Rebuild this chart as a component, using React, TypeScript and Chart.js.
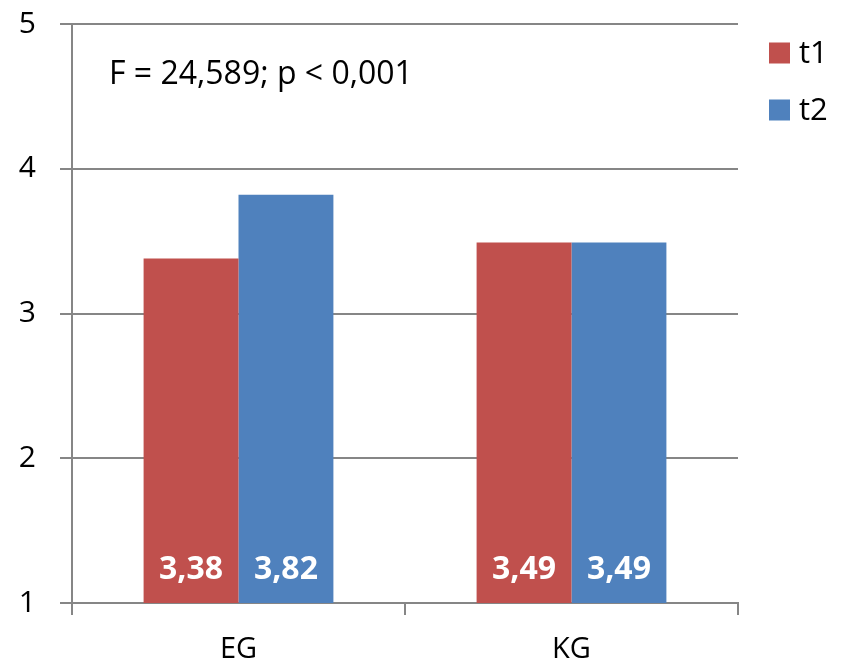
import React, { useEffect, useRef } from "react";
import { Chart, registerables } from "chart.js";

Chart.register(...registerables);

const groups = ["EG", "KG"];
const seriesNames = ["t1", "t2"];
const t1Values = [3.38, 3.49];
const t2Values = [3.82, 3.49];
const seriesColors = ["#C0504D", "#4F81BD"];
const yTicks = [1, 2, 3, 4, 5];
const statText = "F = 24,589; p < 0,001";

const FONT = "'Open Sans', sans-serif";
const fmt = (v: number) => v.toFixed(2).replace(".", ",");

const overlayPlugin = {
  id: "overlay",
  afterDatasetsDraw(chart: any) {
    const { ctx, chartArea, scales } = chart;
    const y = scales.y;
    ctx.save();
    // value labels near the base of each bar
    ctx.font = `bold 32px ${FONT}`;
    ctx.fillStyle = "#ffffff";
    ctx.textAlign = "center";
    ctx.textBaseline = "middle";
    chart.data.datasets.forEach((ds: any, di: number) => {
      const meta = chart.getDatasetMeta(di);
      meta.data.forEach((bar: any, i: number) => {
        ctx.fillText(fmt(ds.data[i]), bar.x, y.getPixelForValue(yTicks[0]) - 33);
      });
    });
    // statistics annotation
    ctx.font = `32px ${FONT}`;
    ctx.fillStyle = "#000000";
    ctx.textAlign = "left";
    ctx.fillText(statText, chartArea.left + 37, chartArea.top + 51);
    // legend
    ctx.font = `31px ${FONT}`;
    chart.data.datasets.forEach((ds: any, di: number) => {
      const cy = chartArea.top + 29 + di * 57;
      ctx.fillStyle = ds.backgroundColor;
      ctx.fillRect(chartArea.right + 31, cy - 10.5, 21, 21);
      ctx.fillStyle = "#000000";
      ctx.fillText(ds.label, chartArea.right + 61, cy + 1);
    });
    ctx.restore();
  },
};

export default function App() {
  const ref = useRef<HTMLCanvasElement | null>(null);

  useEffect(() => {
    document.body.style.margin = "0";
    const canvas = ref.current;
    if (!canvas) return;
    const chart = new Chart(canvas, {
      type: "bar",
      data: {
        labels: groups,
        datasets: [
          { label: seriesNames[0], data: t1Values, backgroundColor: seriesColors[0] },
          { label: seriesNames[1], data: t2Values, backgroundColor: seriesColors[1] },
        ],
      },
      options: {
        responsive: false,
        animation: false,
        devicePixelRatio: 1,
        layout: { padding: { top: 24, right: 106, left: 0, bottom: 0 } },
        datasets: { bar: { categoryPercentage: 0.57, barPercentage: 1, borderWidth: 0 } },
        plugins: { legend: { display: false }, tooltip: { enabled: false } },
        scales: {
          x: {
            afterFit: (s: any) => { s.height = 64; s.paddingLeft = 0; s.paddingRight = 0; },
            grid: { drawOnChartArea: false, drawTicks: true, tickLength: 12, color: "#868686", lineWidth: 2, offset: true },
            border: { color: "#868686", width: 2 },
            ticks: { font: { family: FONT, size: 29 }, color: "#000000", padding: 17 },
          },
          y: {
            min: 1,
            max: 5,
            afterFit: (s: any) => { s.width = 72; s.paddingTop = 0; s.paddingBottom = 0; },
            afterBuildTicks: (s: any) => { s.ticks = yTicks.map((v) => ({ value: v })); },
            grid: { color: "#868686", lineWidth: 2, tickLength: 12 },
            border: { color: "#868686", width: 2 },
            ticks: { font: { family: FONT, size: 30 }, color: "#000000", padding: 24, callback: (v: any) => String(v) },
          },
        },
      },
      plugins: [overlayPlugin],
    });
    return () => chart.destroy();
  }, []);

  return (
    <div style={{ width: 844, height: 667 }}>
      <canvas ref={ref} width={844} height={667} style={{ display: "block" }} />
    </div>
  );
}
